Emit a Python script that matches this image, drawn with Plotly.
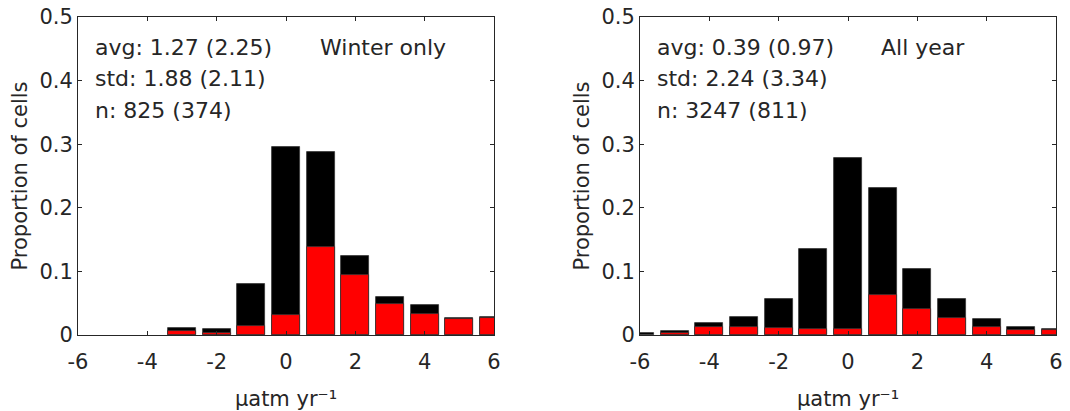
import plotly.graph_objects as go
from plotly.subplots import make_subplots

# ---- data ----
bins = [-6, -5, -4, -3, -2, -1, 0, 1, 2, 3, 4, 5, 6]
winter_all = [0, 0, 0, 0.011, 0.0094, 0.0807, 0.296, 0.288, 0.125, 0.060, 0.0467, 0.0272, 0.0283]
winter_sub = [0, 0, 0, 0.0063, 0.003, 0.0142, 0.031, 0.139, 0.0943, 0.048, 0.0325, 0.0257, 0.0272]
year_all = [0.0035, 0.0063, 0.0183, 0.0278, 0.0566, 0.135, 0.279, 0.231, 0.104, 0.056, 0.0257, 0.012, 0.0099]
year_sub = [0.0, 0.003, 0.012, 0.012, 0.0115, 0.009, 0.0094, 0.0629, 0.0404, 0.0267, 0.013, 0.0074, 0.0074]

xtick_vals = [-6, -4, -2, 0, 2, 4, 6]
xtick_text = ["-6", "-4", "-2", "0", "2", "4", "6"]
ytick_vals = [0, 0.1, 0.2, 0.3, 0.4, 0.5]
ytick_text = ["0", "0.1", "0.2", "0.3", "0.4", "0.5"]

stats_winter = ["avg: 1.27 (2.25)", "std: 1.88 (2.11)", "n: 825 (374)"]
stats_year = ["avg: 0.39 (0.97)", "std: 2.24 (3.34)", "n: 3247 (811)"]
labels = ["Winter only", "All year"]
x_title = "μatm yr⁻¹"
y_title = "Proportion of cells"

W, H = 1070, 411
FONT = "DejaVu Sans"
AX = "#262626"


def nz(vals):
    # empty bins are not drawn at all
    return [v if v > 0 else None for v in vals]


fig = make_subplots(rows=1, cols=2)

panels = [(winter_all, winter_sub), (year_all, year_sub)]
for i, (tot, sub) in enumerate(panels, start=1):
    fig.add_trace(go.Bar(x=bins, y=nz(tot), width=0.8,
                         marker=dict(color="#000000", line=dict(color="#333333", width=0.8)),
                         showlegend=False), row=1, col=i)
    fig.add_trace(go.Bar(x=bins, y=nz(sub), width=0.8,
                         marker=dict(color="#ff0000", line=dict(color="#333333", width=0.8)),
                         showlegend=False), row=1, col=i)

# pixel geometry
left_dom = [78 / W, 494 / W]
right_dom = [640 / W, 1056 / W]
y_dom = [1 - 335 / H, 1 - 17 / H]

axis_common = dict(showline=True, linecolor=AX, linewidth=1, mirror="ticks", ticks="inside", ticklen=4,
                   tickcolor=AX, showgrid=False, zeroline=False, automargin=False,
                   tickfont=dict(family=FONT, size=21, color=AX))
xax = dict(range=[-6, 6], tickvals=xtick_vals, ticktext=xtick_text, ticklabelstandoff=8,
           title=dict(text=x_title, standoff=18, font=dict(family=FONT, size=21, color=AX)), **axis_common)
yax = dict(domain=y_dom, range=[0, 0.5], tickvals=ytick_vals, ticktext=ytick_text,
           title=dict(text=y_title, standoff=6, font=dict(family=FONT, size=21, color=AX)), **axis_common)

fig.update_layout(
    width=W, height=H, margin=dict(l=0, r=0, t=0, b=0),
    paper_bgcolor="white", plot_bgcolor="white", barmode="overlay", bargap=0,
    xaxis=dict(domain=left_dom, **xax),
    xaxis2=dict(domain=right_dom, **xax),
    yaxis=yax,
    yaxis2=yax,
)

stat_y = [0.452, 0.404, 0.353]
for xr, yr, stats, lab, sx, lx in [("x", "y", stats_winter, labels[0], -5.58, 0.92),
                                   ("x2", "y2", stats_year, labels[1], -5.57, 0.89)]:
    for txt, yy in zip(stats, stat_y):
        fig.add_annotation(x=sx, y=yy, xref=xr, yref=yr, text=txt, showarrow=False, xanchor="left",
                           yanchor="middle", font=dict(family=FONT, size=22, color=AX))
    fig.add_annotation(x=lx, y=stat_y[0], xref=xr, yref=yr, text=lab, showarrow=False, xanchor="left",
                       yanchor="middle", font=dict(family=FONT, size=22, color=AX))

fig.write_html("out.html", config={"displayModeBar": False},
               post_script="document.body.style.margin='0';document.body.style.overflow='hidden';")
